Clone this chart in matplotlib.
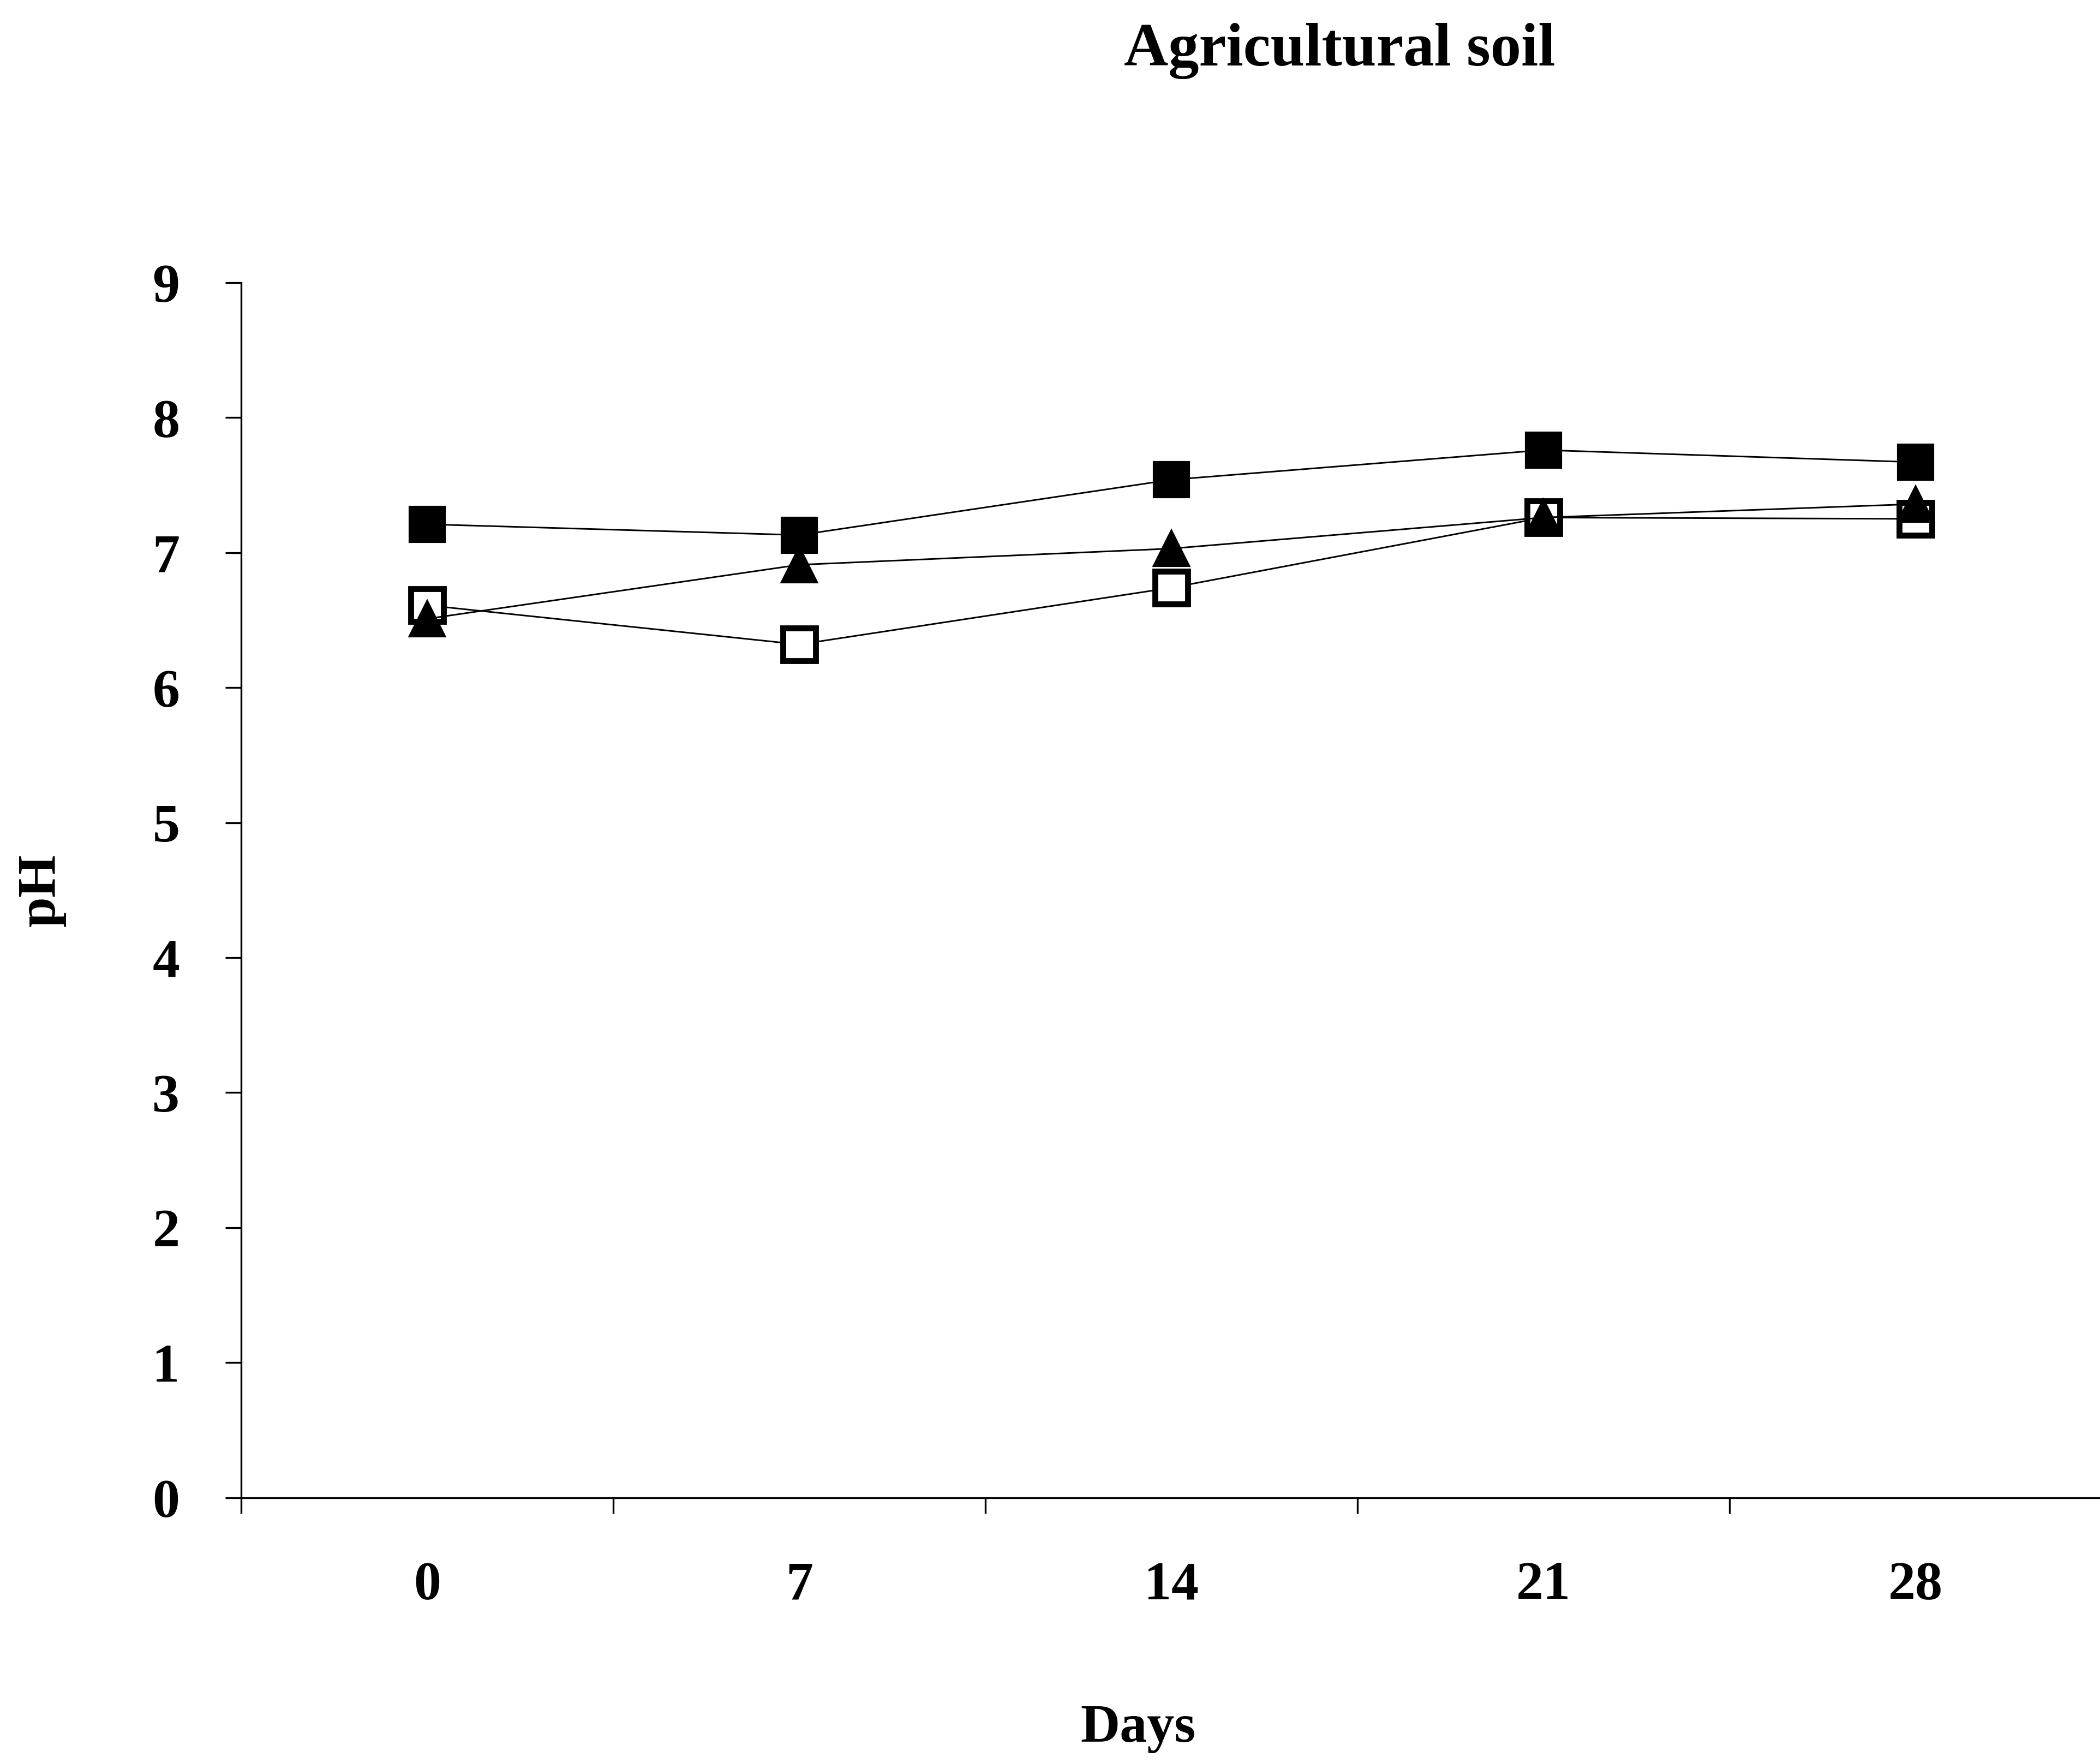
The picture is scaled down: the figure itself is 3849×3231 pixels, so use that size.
import matplotlib.pyplot as plt
import numpy as np

plt.rcParams['font.family'] = ['Liberation Serif', 'DejaVu Serif']
plt.rcParams['font.weight'] = 'bold'

days = ["0", "7", "14", "21", "28"]
ph_filled_sq = [7.21, 7.13, 7.54, 7.76, 7.67]
ph_triangle = [6.51, 6.91, 7.03, 7.26, 7.36]
ph_open_sq = [6.61, 6.32, 6.74, 7.26, 7.25]
yticks = list(range(0, 10))

fig = plt.figure(figsize=(12.83, 10.77), dpi=300)
ax = fig.add_axes([0.1148, 0.1505, 0.886, 0.6892])

x = np.arange(len(days))
ax.plot(x, ph_open_sq, color='black', lw=0.7, marker='s', ms=14.5,
        mfc='white', mec='black', mew=2.6, zorder=3)
ax.plot(x, ph_triangle, color='black', lw=0.7, marker='^', ms=15.5,
        mfc='black', mec='black', zorder=4)
ax.plot(x, ph_filled_sq, color='black', lw=0.7, marker='s', ms=15.5,
        mfc='black', mec='black', zorder=5)

ax.set_xlim(-0.5, len(days) - 0.5)
ax.set_ylim(0, 9)
ax.set_yticks(yticks)
ax.set_yticklabels([str(v) for v in yticks], fontsize=24, fontweight='bold')

# category labels sit between the boundary ticks
ax.set_xticks(np.arange(-0.5, len(days), 1.0))
ax.set_xticklabels([])
ax.set_xticks(x, minor=True)
ax.set_xticklabels(days, minor=True, fontsize=24, fontweight='bold')
ax.tick_params(axis='x', which='minor', length=0, pad=28)
ax.tick_params(axis='x', which='major', length=7, width=0.8, direction='out')
ax.tick_params(axis='y', length=7, width=0.8, direction='out', pad=20)

for s in ['top', 'right']:
    ax.spines[s].set_visible(False)
for s in ['left', 'bottom']:
    ax.spines[s].set_linewidth(0.8)

ax.set_xlabel("Days", fontsize=24, fontweight='bold', labelpad=40)
ax.xaxis.set_label_coords(0.482, -0.17)
ax.set_ylabel("pH", fontsize=24, fontweight='bold', labelpad=38)
fig.text(0.638, 0.971, "Agricultural soil", ha='center', va='center',
         fontsize=27, fontweight='bold')

fig.savefig("out.png", dpi=300, facecolor='white')
